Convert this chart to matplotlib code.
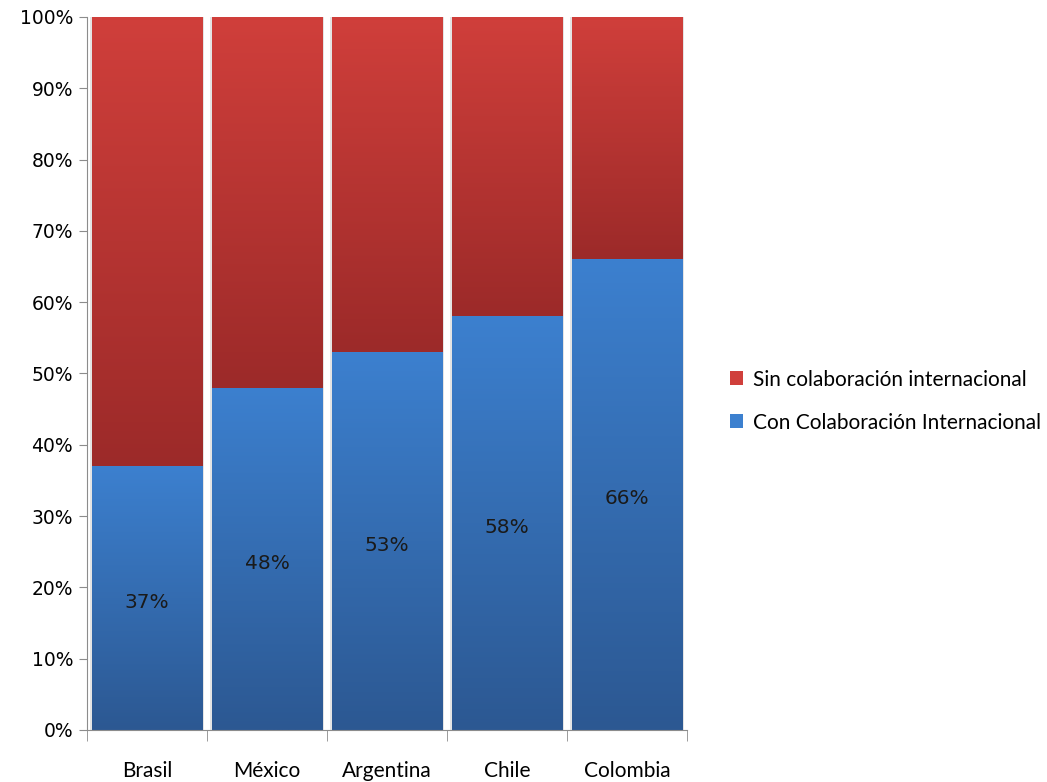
import matplotlib
matplotlib.use("Agg")
import matplotlib.pyplot as plt
import numpy as np
from matplotlib.colors import LinearSegmentedColormap
from matplotlib.patches import Patch
from matplotlib.ticker import PercentFormatter, FixedLocator, NullFormatter

# Share of publications with / without international collaboration
countries = ["Brasil", "México", "Argentina", "Chile", "Colombia"]
con_colab = [37, 48, 53, 58, 66]
sin_colab = [100 - v for v in con_colab]

label_con = "Con Colaboración Internacional"
label_sin = "Sin colaboración internacional"

# gradient ends (top colour, bottom colour) for each series
blue_grad = ("#3c80cf", "#2c5892")
red_grad = ("#d03f3b", "#9c2a29")

fig = plt.figure(figsize=(10.47, 7.82), dpi=100)
ax = fig.add_axes([0.0831, 0.0665, 0.5731, 0.9118])

x = np.arange(len(countries))
width = 0.92

# soft shadow behind each stacked column
ax.bar(x, [100] * len(x), width=width + 0.035, color="#cfcfcf", alpha=0.55, zorder=1)

bars_con = ax.bar(x, con_colab, width=width, color="none", zorder=2)
bars_sin = ax.bar(x, sin_colab, width=width, bottom=con_colab, color="none", zorder=2)


def fill_gradient(bars, colors):
    cmap = LinearSegmentedColormap.from_list("g", [colors[1], colors[0]])
    grad = np.linspace(0, 1, 256).reshape(-1, 1)
    for b in bars:
        x0, y0 = b.get_x(), b.get_y()
        im = ax.imshow(grad, cmap=cmap, aspect="auto", origin="lower",
                       extent=(x0, x0 + b.get_width(), y0, y0 + b.get_height()),
                       zorder=2)
        im.set_clip_path(b)


fill_gradient(bars_con, blue_grad)
fill_gradient(bars_sin, red_grad)

for xi, v in zip(x, con_colab):
    ax.text(xi, v / 2 - 0.6, f"{v}%", ha="center", va="center", fontsize=14.5,
            family="DejaVu Sans", color="#1a1a1a", zorder=3)

ax.set_xlim(-0.5, len(x) - 0.5)
ax.set_ylim(0, 100)
ax.set_yticks(np.arange(0, 101, 10))
ax.yaxis.set_major_formatter(PercentFormatter(decimals=0))
ax.tick_params(axis="y", length=6, color="#8c8c8c", labelsize=13.5, pad=4)
for t in ax.get_yticklabels():
    t.set_family("DejaVu Sans")

ax.set_xticks(x)
ax.set_xticklabels(countries, family="Lato", fontsize=15)
ax.tick_params(axis="x", which="major", length=0, pad=22)
ax.xaxis.set_minor_locator(FixedLocator(np.arange(-0.5, len(x), 1)))
ax.xaxis.set_minor_formatter(NullFormatter())
ax.tick_params(axis="x", which="minor", length=8, color="#8c8c8c")

for s in ("top", "right"):
    ax.spines[s].set_visible(False)
for s in ("left", "bottom"):
    ax.spines[s].set_color("#8c8c8c")
ax.set_axisbelow(False)

handles = [Patch(facecolor=red_grad[0], edgecolor="none", label=label_sin),
           Patch(facecolor=blue_grad[0], edgecolor="none", label=label_con)]
fig.legend(handles=handles, loc="center left", bbox_to_anchor=(0.679, 0.487),
           frameon=False, prop={"family": "Lato", "size": 15},
           handlelength=0.65, handleheight=0.65, handletextpad=0.45,
           labelspacing=1.1)

fig.savefig("out.png", dpi=100)
